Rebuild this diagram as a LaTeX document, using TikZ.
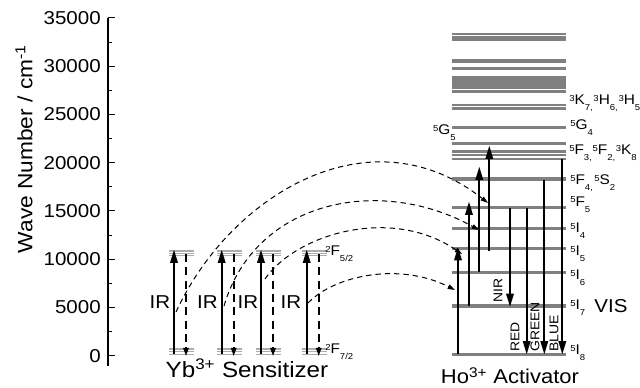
\documentclass[tikz,border=0pt]{standalone}
\usepackage{fontspec}
\setmainfont{Liberation Sans}[FakeStretch=1.1]
\usetikzlibrary{arrows.meta}

% term symbol: superscript, letter, subscript
\newcommand{\lvl}[3]{\raisebox{2.7pt}{\fontsize{6.5}{8}\selectfont #1}#2\raisebox{-4.3pt}{\fontsize{6.5}{8}\selectfont #3}}

\begin{document}
\begin{tikzpicture}[
    x=0.75pt, y=-0.75pt,
    ticklbl/.style={font=\fontsize{14}{16}\selectfont, anchor=east, inner sep=0pt},
    lbl/.style={font=\fontsize{10.5}{12}\selectfont, anchor=base west, inner sep=0pt},
    big/.style={font=\fontsize{14}{16}\selectfont, inner sep=0pt},
    ybline/.style={draw=gray!65, line width=1.1pt},
    holine/.style={draw=gray, line width=2.5pt},
    hothin/.style={draw=gray, line width=1.8pt},
    pump/.style={-{Triangle[length=10pt,width=5.5pt]}, line width=1.6pt},
    decay/.style={-{Triangle[length=6pt,width=4pt]}, line width=1.2pt, dash pattern=on 6pt off 4pt},
    transfer/.style={-{Triangle[length=5.5pt,width=3.5pt]}, line width=0.75pt, dash pattern=on 4pt off 3pt},
    band/.style={font=\fontsize{9.5}{11}\selectfont, rotate=90, anchor=west, inner sep=0pt},
]
\useasboundingbox (0,0) rectangle (640,388);

% Axis
\draw[line width=0.8pt] (108,18) -- (108,366);
\foreach \k/\t in {0/0, 5/5000, 10/10000, 15/15000, 20/20000, 25/25000, 30/30000, 35/35000} {
  \draw[line width=0.8pt] (108,{355.7-\k*9.65}) -- ++(7,0);
  \node[ticklbl] (t\k) at (101,{355.7-\k*9.65}) {\t};
}
\foreach \k in {2.5,7.5,...,32.5}
  \draw[line width=0.8pt] (108,{355.7-\k*9.65}) -- ++(4,0);
\node[rotate=90, font=\fontsize{15.5}{17}\selectfont] (ylab) at (24,149) {Wave Number / cm\textsuperscript{-1}};

% Yb sensitizer
\foreach \a/\c [count=\i] in {174/160, 221.7/207.5, 261/248, 306.7/291} {
  \foreach \yy in {251,253.3,255.7,349,351.7,354.3}
    \draw[ybline] (\a-5,\yy) -- (\a+20,\yy);
  \draw[pump] (\a,354.5) -- (\a,249.5);
  \draw[decay] (\a+12,254) -- (\a+12,356);
  \node[big] (ir\i) at (\c,302.5) {IR};
}
\node[lbl] (f52) at (325,256) {\lvl{2}{F}{5/2}};
\node[lbl] (f72) at (325,354) {\lvl{2}{F}{7/2}};
\node[font=\fontsize{16.5}{18}\selectfont, anchor=base] (yb) at (247,378) {Yb\textsuperscript{3+} Sensitizer};

% Ho activator levels
\foreach \yy in {354.3,306,272.3,248.3,228.8,207.8,179,143.5,127.3,61,68.3,77.7,80.5,84,87.5,91.3}
  \draw[holine] (452,\yy) -- (566,\yy);
\foreach \yy in {159,155,151.7,108.7,105.3,34.2,37.2,39.6}
  \draw[hothin] (452,\yy) -- (566,\yy);

\node[lbl] (i8) at (570,355) {\lvl{5}{I}{8}};
\node[lbl] (i7) at (570,310) {\lvl{5}{I}{7}};
\node[lbl] (i6) at (570,280) {\lvl{5}{I}{6}};
\node[lbl] (i5) at (570,256) {\lvl{5}{I}{5}};
\node[lbl] (i4) at (570,233) {\lvl{5}{I}{4}};
\node[lbl] (f5) at (570,206.5) {\lvl{5}{F}{5}};
\node[lbl] (f4) at (570,185) {\lvl{5}{F}{4,}\hspace{1pt}\lvl{5}{S}{2}};
\node[lbl] (f3) at (569,155) {\lvl{5}{F}{3,}\hspace{0.5pt}\lvl{5}{F}{2,}\hspace{0.5pt}\lvl{3}{K}{8}};
\node[lbl] (g4) at (570,130) {\lvl{5}{G}{4}};
\node[lbl] (k7) at (569,105) {\lvl{3}{K}{7,}\hspace{0.5pt}\lvl{3}{H}{6,}\hspace{0.5pt}\lvl{3}{H}{5}};
\node[lbl, anchor=base east] (g5) at (456,135) {\lvl{5}{G}{5}};
\node[big] (vis) at (611,306.5) {VIS};
\node[font=\fontsize{15}{17}\selectfont, anchor=base] (ho) at (510,384) {Ho\textsuperscript{3+} Activator};

% Ho excitation
\draw[pump] (458,354.3) -- (458,247);
\draw[pump] (469,306) -- (469,201.5);
\draw[pump] (479.3,272.3) -- (479.3,166.5);
\draw[pump] (489.3,251) -- (489.3,145.5);

% Ho emission
\draw[pump] (510,208) -- (510,307);
\draw[pump] (526.7,208) -- (526.7,354.5);
\draw[pump] (544.3,180) -- (544.3,354.5);
\draw[pump] (562.3,159) -- (562.3,354.5);
\node[band] (nir) at (498,303) {NIR};
\node[band] (red) at (515,352) {RED};
\node[band] (green) at (535,352) {GREEN};
\node[band] (blue) at (554,352) {BLUE};

% Energy transfer
\draw[transfer] (176,312) .. controls (230,195) and (370,110) .. (488,203);
\draw[transfer] (224,306) .. controls (255,200) and (380,175) .. (479,230);
\draw[transfer] (265,279) .. controls (295,235) and (390,205) .. (462,254);
\draw[transfer] (308,303) .. controls (335,275) and (400,262) .. (455,290);

\end{tikzpicture}
\end{document}
